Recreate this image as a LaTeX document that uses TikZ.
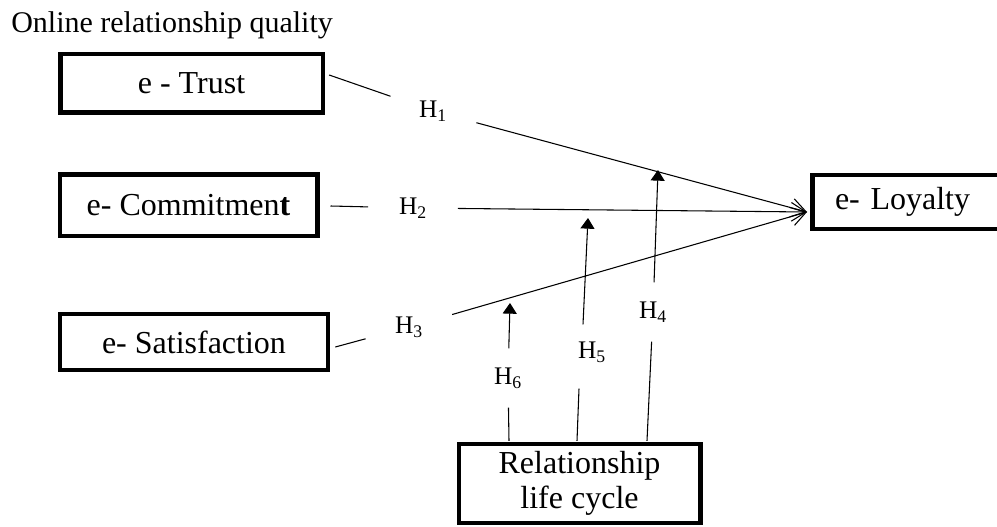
\documentclass[tikz,border=0pt]{standalone}
\usepackage{fontspec}
\setmainfont{Liberation Serif}
\usetikzlibrary{arrows.meta,calc}

\begin{document}
\begin{tikzpicture}[x=0.75pt,y=0.75pt,yscale=-1,xscale=1,
  box/.style={draw,line width=3.5pt,inner sep=0pt,font=\fontsize{24}{26}\selectfont},
  hyp/.style={circle,inner sep=0pt,minimum size=67pt,font=\fontsize{19}{22}\selectfont},
  hmod/.style={hyp,minimum size=44pt},
  link/.style={line width=0.8pt},
  barb/.style={link,-{Straight Barb[length=11pt,width=14pt]}},
  tri/.style={link,-{Triangle[length=8pt,width=10.5pt]}}]
\clip (0,0) rectangle (997,527);

% Text Node
\node (title) [anchor=base west,inner sep=0pt,font=\fontsize{22.5}{26}\selectfont] at (11,33) {Online relationship quality};

%Shape: Rectangle
\node (trust) [box,minimum width=197pt,minimum height=44pt] at (191.5,83.5) {e - Trust};
%Shape: Rectangle
\node (commit) [box,minimum width=193pt,minimum height=46pt] at (188.5,205.5) {e- Commitmen\textbf{t}};
%Shape: Rectangle
\node (satis) [box,minimum width=201pt,minimum height=42pt] at (194,342) {e- Satisfaction};
%Shape: Rectangle
\node (loyal) [box,anchor=west,text width=150pt,inner xsep=17pt,minimum height=40.5pt,align=left] at (810,202) {e- Loyalty};
%Shape: Rectangle
\node (cycle) [box,minimum width=181pt,minimum height=59pt,align=center] at (579.5,483.5) {Relationship\\life cycle};

% Text Node
\node (h1) [hyp] at (433,111) {H\textsubscript{1}};
\node (h2) [hyp] at (413,208) {H\textsubscript{2}};
\node (h3) [hyp] at (409,327) {H\textsubscript{3}};
\node (h4) [hmod] at (653,312) {H\textsubscript{4}};
\node (h5) [hmod] at (592,352) {H\textsubscript{5}};
\node (h6) [hmod] at (508,378) {H\textsubscript{6}};

\coordinate (lin) at ($(loyal.west)+(-3,10)$);
\coordinate (t4) at (658,170);
\coordinate (t5) at (588,218);
\coordinate (t6) at (510,303);

%Straight Lines
\draw [link] ($(trust.east)+(4,-8.5)$) -- (h1);
\draw [barb] (h1) -- (lin);
%Straight Lines
\draw [link] ($(commit.east)+(11,0.5)$) -- (h2);
\draw [barb] (h2) -- (lin);
%Straight Lines
\draw [link] ($(satis.east)+(5,5)$) -- (h3);
\draw [barb] (h3) -- (lin);

%Straight Lines
\draw [link] ($(cycle.north)+(67.5,-1)$) -- (h4);
\draw [tri] (h4) -- (t4);
%Straight Lines
\draw [link] ($(cycle.north)+(-2.5,-1)$) -- ($(h5.south)+(-13,7)$);
\draw [tri] ($(h5.north)+(-9,2)$) -- (t5);
%Straight Lines
\draw [link] ($(cycle.north)+(-70.5,-1)$) -- (h6);
\draw [tri] (h6) -- (t6);

\end{tikzpicture}
\end{document}
